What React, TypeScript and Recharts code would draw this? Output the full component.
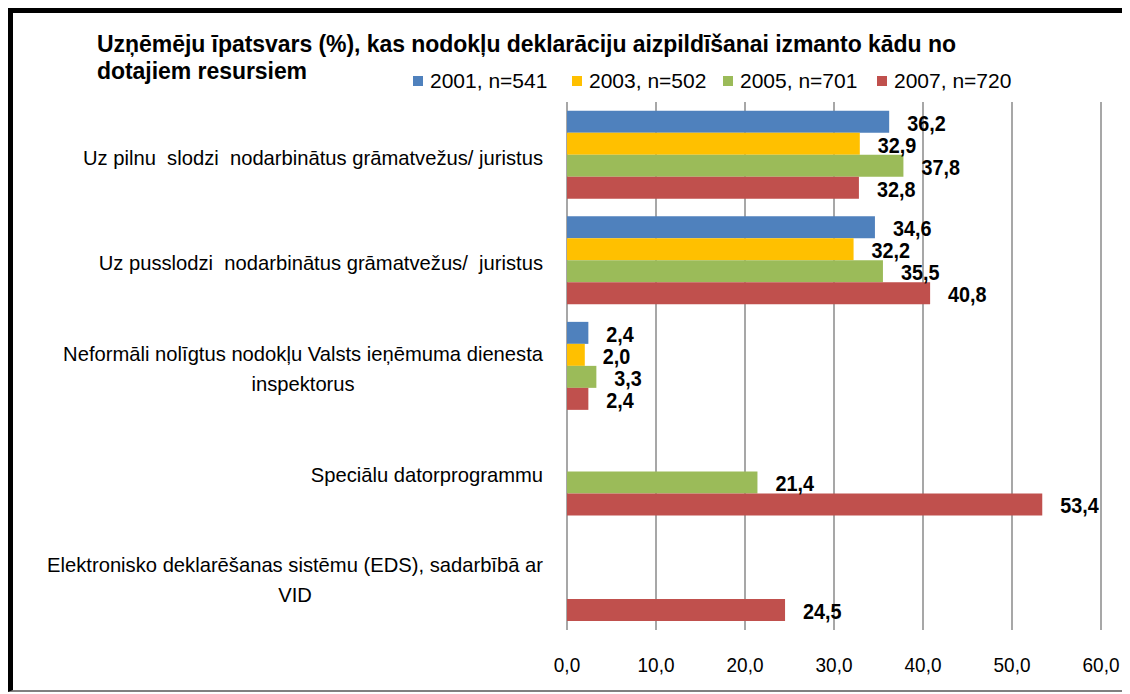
import React from 'react';
import { BarChart, Bar, XAxis, YAxis, CartesianGrid, LabelList } from 'recharts';

const categoryLines: string[][] = [
  ['Uz pilnu  slodzi  nodarbinātus grāmatvežus/ juristus'],
  ['Uz pusslodzi  nodarbinātus grāmatvežus/  juristus'],
  ['Neformāli nolīgtus nodokļu Valsts ieņēmuma dienesta', 'inspektorus'],
  ['Speciālu datorprogrammu'],
  ['Elektronisko deklarēšanas sistēmu (EDS), sadarbībā ar', 'VID'],
];
const seriesNames = ['2001, n=541', '2003, n=502', '2005, n=701', '2007, n=720'];
const values2001: (number | null)[] = [36.2, 34.6, 2.4, null, null];
const values2003: (number | null)[] = [32.9, 32.2, 2.0, null, null];
const values2005: (number | null)[] = [37.8, 35.5, 3.3, 21.4, null];
const values2007: (number | null)[] = [32.8, 40.8, 2.4, 53.4, 24.5];
const xTicks = [0, 10, 20, 30, 40, 50, 60];
const boundaryTicks = [0, 1, 2, 3, 4, 5];
const titleLines = [
  'Uzņēmēju īpatsvars (%), kas nodokļu deklarāciju aizpildīšanai izmanto kādu no',
  'dotajiem resursiem',
];
const colors = ['#4F81BD', '#FFC000', '#9BBB59', '#C0504D'];

const seriesValues = [values2001, values2003, values2005, values2007];
const keys = ['s2001', 's2003', 's2005', 's2007'];
const data = categoryLines.map((lines, i) => {
  const row: any = { name: lines.join('\n') };
  keys.forEach((k, j) => (row[k] = seriesValues[j][i]));
  return row;
});

const FONT = "'Liberation Sans', Arial, sans-serif";
const fmt = (v: number) => v.toFixed(1).replace('.', ',');

let canvasCtx: CanvasRenderingContext2D | null = null;
const measure = (text: string, font: string) => {
  if (!canvasCtx) canvasCtx = document.createElement('canvas').getContext('2d');
  if (!canvasCtx) return text.length * 8;
  canvasCtx.font = font;
  return canvasCtx.measureText(text).width;
};

const CatTick = (props: any) => {
  const { x, y, payload } = props;
  const lines: string[] = String(payload.value).split('\n');
  const fontSize = 20.2;
  const right = x - 16;
  const lineH = 30;
  if (lines.length === 1) {
    return (
      <text x={right} y={y + 3} textAnchor="end" dominantBaseline="central" fontFamily={FONT} fontSize={fontSize} fill="#000" style={{ whiteSpace: 'pre' }}>
        {lines[0]}
      </text>
    );
  }
  const widths = lines.map((l) => measure(l, `${fontSize}px ${FONT}`));
  const maxW = Math.max(...widths);
  const cx = right - maxW / 2;
  const y0 = y + 3 - ((lines.length - 1) * lineH) / 2;
  return (
    <g>
      {lines.map((l, i) => (
        <text key={i} x={cx} y={y0 + i * lineH} textAnchor="middle" dominantBaseline="central" fontFamily={FONT} fontSize={fontSize} fill="#000" style={{ whiteSpace: 'pre' }}>
          {l}
        </text>
      ))}
    </g>
  );
};

const XTick = (props: any) => {
  const { x, y, payload } = props;
  return (
    <text transform={`translate(${x},${Number(y) + 35}) scale(0.95,1)`} textAnchor="middle" dominantBaseline="central" fontFamily={FONT} fontSize={20} fill="#000">
      {fmt(Number(payload.value))}
    </text>
  );
};

const EmptyTick = () => <g />;

const ValueLabel = (props: any) => {
  const { x, y, width, height, value } = props;
  if (value === null || value === undefined) return null;
  const tx = Number(x) + Number(width) + 18;
  const ty = Number(y) + Number(height) / 2 + 1;
  return (
    <text transform={`translate(${tx},${ty}) scale(0.9,1)`} dominantBaseline="central" fontFamily={FONT} fontWeight="bold" fontSize={22} fill="#000">
      {fmt(Number(value))}
    </text>
  );
};

const legendLeft = [400, 559, 710, 864];

export default function App() {
  return (
    <div
      style={{
        position: 'relative',
        width: 1109,
        height: 677,
        borderTop: '5px solid #000',
        borderLeft: '5px solid #000',
        borderBottom: '2px solid #808080',
        background: '#fff',
      }}
    >
      <style>{'html,body{overflow:hidden}'}</style>
      <div
        style={{
          position: 'absolute',
          left: 84,
          top: 18,
          fontFamily: FONT,
          fontWeight: 'bold',
          fontSize: 23,
          lineHeight: '27px',
          color: '#000',
          whiteSpace: 'pre',
          letterSpacing: -0.05,
        }}
      >
        {titleLines.map((t, i) => (
          <div key={i}>{t}</div>
        ))}
      </div>
      {seriesNames.map((n, i) => (
        <div
          key={n}
          style={{
            position: 'absolute',
            left: legendLeft[i],
            top: 56,
            height: 24,
            display: 'flex',
            alignItems: 'center',
            fontFamily: FONT,
            fontSize: 21,
            color: '#000',
            whiteSpace: 'pre',
          }}
        >
          <span style={{ display: 'inline-block', width: 10, height: 10, background: colors[i], marginRight: 7 }} />
          <span>{n}</span>
        </div>
      ))}
      <BarChart
        width={1109}
        height={677}
        data={data}
        layout="vertical"
        margin={{ top: 89, right: 21, left: 0, bottom: 0 }}
        barCategoryGap="8.2%"
        barGap={0}
        style={{ position: 'absolute', left: 0, top: 0 }}
      >
        <CartesianGrid horizontal={false} vertical={true} stroke="#8a8a8a" strokeWidth={1.5} yAxisId="cat" />
        <XAxis
          type="number"
          domain={[0, 60]}
          ticks={xTicks}
          interval={0}
          axisLine={false}
          tickLine={false}
          tickSize={0}
          tickMargin={0}
          height={60}
          tick={<XTick />}
        />
        <YAxis
          yAxisId="ticks"
          type="number"
          domain={[0, 5]}
          ticks={boundaryTicks}
          interval={0}
          width={0}
          tickSize={10}
          tick={<EmptyTick />}
          tickLine={{ stroke: '#8a8a8a', strokeWidth: 1.5 }}
          axisLine={{ stroke: '#8a8a8a', strokeWidth: 1.5 }}
          allowDataOverflow
        />
        <YAxis
          yAxisId="cat"
          type="category"
          dataKey="name"
          width={554}
          axisLine={false}
          tickLine={false}
          interval={0}
          tick={<CatTick />}
        />
        {keys.map((k, i) => (
          <Bar key={k} yAxisId="cat" dataKey={k} name={seriesNames[i]} fill={colors[i]} isAnimationActive={false}>
            <LabelList dataKey={k} content={<ValueLabel />} />
          </Bar>
        ))}
      </BarChart>
    </div>
  );
}
